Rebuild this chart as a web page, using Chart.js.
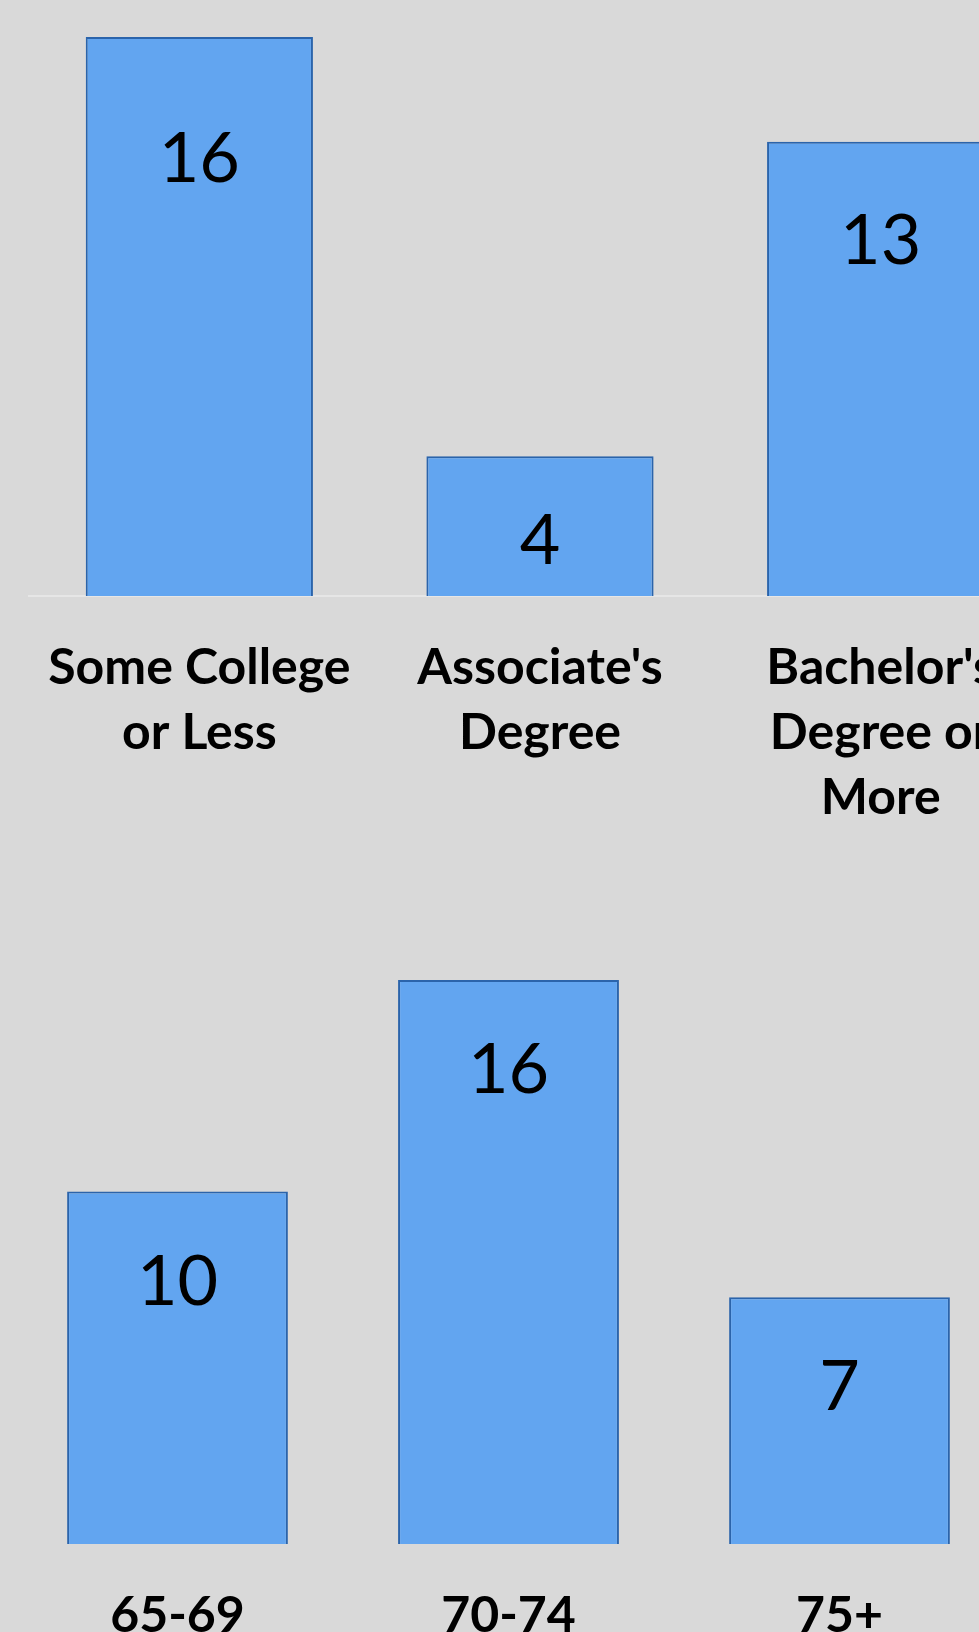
<!DOCTYPE html>
<html>
  <head>
    <title>Respondents by Education and Age</title>
    <script src="https://cdn.jsdelivr.net/npm/chart.js"></script>
    <style>
      html,
      body {
        margin: 0;
        padding: 0;
        width: 979px;
        height: 1632px;
        overflow: hidden;
        background: #d9d9d9;
      }
      .chart-box {
        position: absolute;
        left: 0;
      }
      #education-box {
        top: 0;
        width: 1060px;
        height: 820px;
      }
      #age-box {
        top: 940px;
        width: 1020px;
        height: 704px;
      }
    </style>
  </head>

  <body>
    <div class="chart-box" id="education-box">
      <canvas id="educationChart"></canvas>
    </div>
    <div class="chart-box" id="age-box">
      <canvas id="ageChart"></canvas>
    </div>

    <script>
      // education level counts
      const educationLabels = [
        ["Some College", "or Less"],
        ["Associate's", "Degree"],
        ["Bachelor's", "Degree or", "More"],
      ];
      const educationCounts = [16, 4, 13];

      // age group counts
      const ageLabels = ["65-69", "70-74", "75+"];
      const ageCounts = [10, 16, 7];

      const barFill = "#62a5f0";
      const barEdge = "#2b64ab";

      // writes each bar's value inside it, a little below the top edge
      const valueLabels = {
        id: "valueLabels",
        afterDatasetsDraw(chart, args, opts) {
          const ctx = chart.ctx;
          const bars = chart.getDatasetMeta(0).data;
          const values = chart.data.datasets[0].data;
          ctx.save();
          ctx.font = "70px Lato";
          ctx.fillStyle = "#000";
          ctx.textAlign = "center";
          ctx.textBaseline = "alphabetic";
          bars.forEach((bar, i) => {
            const off = Array.isArray(opts.offset) ? opts.offset[i] : opts.offset;
            ctx.fillText(String(values[i]), bar.x, bar.y + off);
          });
          ctx.restore();
        },
      };

      function makeChart(id, labels, values, pad, axisHeight, showBorder, offset) {
        const ctx = document.getElementById(id).getContext("2d");
        return new Chart(ctx, {
          type: "bar",
          data: {
            labels: labels,
            datasets: [
              {
                data: values,
                backgroundColor: barFill,
                borderColor: barEdge,
                borderWidth: 2,
                barPercentage: 0.667,
                categoryPercentage: 1,
              },
            ],
          },
          options: {
            responsive: true,
            maintainAspectRatio: false,
            animation: false,
            layout: { padding: pad },
            plugins: {
              legend: { display: false },
              tooltip: { enabled: false },
              valueLabels: { offset: offset },
            },
            scales: {
              x: {
                grid: { display: false, drawTicks: false },
                border: { display: showBorder, color: "#e6e6e6", width: 2 },
                ticks: {
                  color: "#000",
                  padding: 39,
                  maxRotation: 0,
                  autoSkip: false,
                  font: { family: "Lato", weight: "bold", size: 50, lineHeight: 1.3 },
                },
                afterFit(scale) {
                  scale.height = axisHeight;
                },
              },
              y: {
                display: false,
                min: 0,
                max: 16,
              },
            },
          },
          plugins: [valueLabels],
        });
      }

      makeChart(
        "educationChart",
        educationLabels,
        educationCounts,
        { left: 29, right: 9, top: 37, bottom: 0 },
        224,
        true,
        [145, 108, 122]
      );

      makeChart(
        "ageChart",
        ageLabels,
        ageCounts,
        { left: 12, right: 15, top: 40, bottom: 0 },
        100,
        false,
        113
      );
    </script>
  </body>
</html>
